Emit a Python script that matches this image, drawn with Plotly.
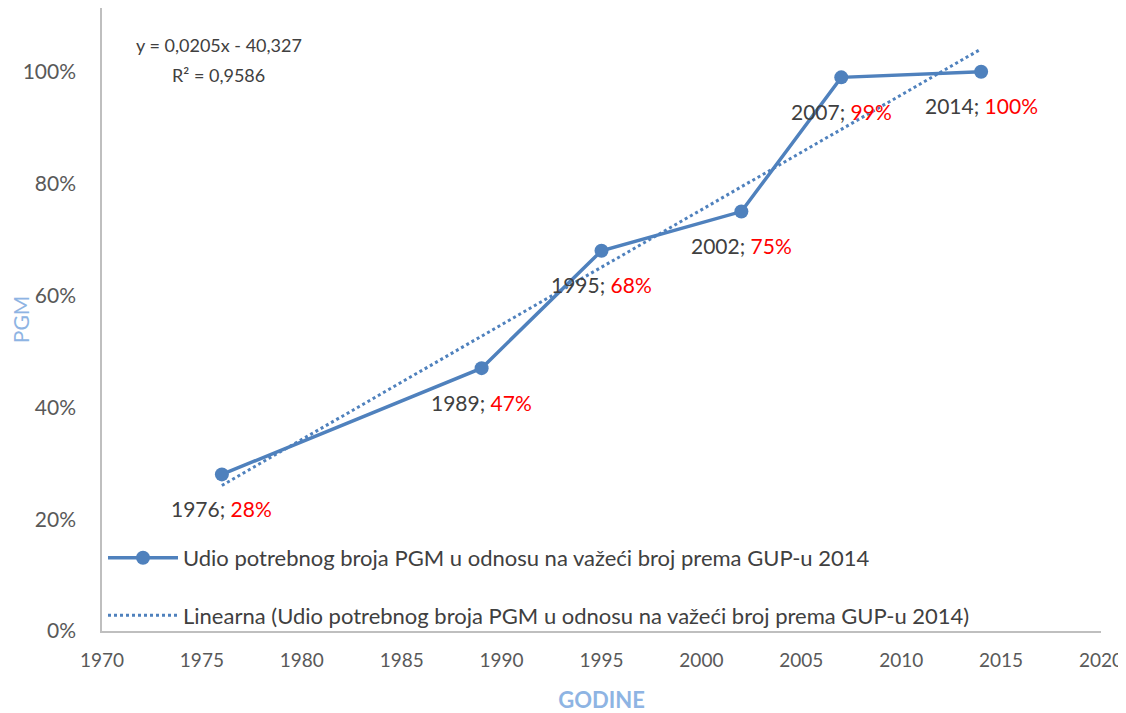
import plotly.graph_objects as go
import numpy as np

# podaci
godine = [1976, 1989, 1995, 2002, 2007, 2014]
udio = [0.28, 0.47, 0.68, 0.75, 0.99, 1.00]
x_ticks = list(range(1970, 2021, 5))
y_ticks = [0, 0.2, 0.4, 0.6, 0.8, 1.0]
y_tick_labels = ["0%", "20%", "40%", "60%", "80%", "100%"]

serija = "Udio potrebnog broja PGM u odnosu na važeći broj prema GUP-u 2014"
trend_naziv = "Linearna (" + serija + ")"
jednadzba = "y = 0,0205x - 40,327"
r2 = "R² = 0,9586"

BLUE = "#4F81BD"
GREY = "#404040"
LIGHT_BLUE = "#8EB4E3"
FONT = "Lato, 'Open Sans', sans-serif"

# linearni trend (kao Excel trendline)
k, n = np.polyfit(godine, udio, 1)
trend_x = [godine[0], godine[-1]]
trend_y = [k * g + n for g in trend_x]

fig = go.Figure()
fig.add_trace(go.Scatter(
    x=godine, y=udio,
    mode="lines+markers",
    line=dict(color=BLUE, width=3.5),
    marker=dict(size=14, color=BLUE),
    name=serija,
    legendgroup="a",
))
fig.add_trace(go.Scatter(
    x=trend_x, y=trend_y,
    mode="lines",
    line=dict(color=BLUE, width=3, dash="dot"),
    name=trend_naziv,
    legendgroup="b",
))

# oznake podataka ispod tocaka
for g, v in zip(godine, udio):
    fig.add_annotation(
        x=g, y=v, yshift=-34, showarrow=False,
        text=f"{g}; <span style='color:#FF0000'>{round(v * 100)}%</span>",
        font=dict(size=21, color=GREY, family=FONT),
    )

# jednadzba trenda
fig.add_annotation(x=0.117, y=0.9406, xref="paper", yref="paper",
                   xanchor="center", yanchor="middle",
                   text=jednadzba, showarrow=False,
                   font=dict(size=18, color=GREY, family=FONT))
fig.add_annotation(x=0.117, y=0.8925, xref="paper", yref="paper",
                   xanchor="center", yanchor="middle",
                   text=r2, showarrow=False,
                   font=dict(size=18, color=GREY, family=FONT))

fig.update_layout(
    width=1110, height=705,
    margin=dict(l=94, r=17, t=0, b=82),
    plot_bgcolor="white", paper_bgcolor="white",
    font=dict(family=FONT, size=19, color="#595959"),
    showlegend=True,
    legend=dict(
        x=0.001, y=0.151, xanchor="left", yanchor="top",
        bgcolor="rgba(255,255,255,0)",
        font=dict(size=22, color=GREY),
        tracegroupgap=26,
        itemwidth=70,
    ),
    xaxis=dict(
        range=[1970, 2020], tickvals=x_ticks,
        tickfont=dict(size=19), ticklabeloverflow="allow",
        showgrid=False, zeroline=False, automargin=False,
        showline=True, linecolor="#BFBFBF", linewidth=1.5,
        ticks="", ticklabelstandoff=11,
        title=dict(text="<b>GODINE</b>", font=dict(size=22, color=LIGHT_BLUE), standoff=46),
    ),
    yaxis=dict(
        range=[0, 1.114], tickvals=y_ticks, ticktext=y_tick_labels,
        tickfont=dict(size=21),
        showgrid=False, zeroline=False, automargin=False,
        showline=True, linecolor="#BFBFBF", linewidth=1.5,
        ticks="", ticklabelstandoff=20,
        title=dict(text="PGM", font=dict(size=21, color=LIGHT_BLUE), standoff=14),
    ),
)

fig.write_html("out.html")
